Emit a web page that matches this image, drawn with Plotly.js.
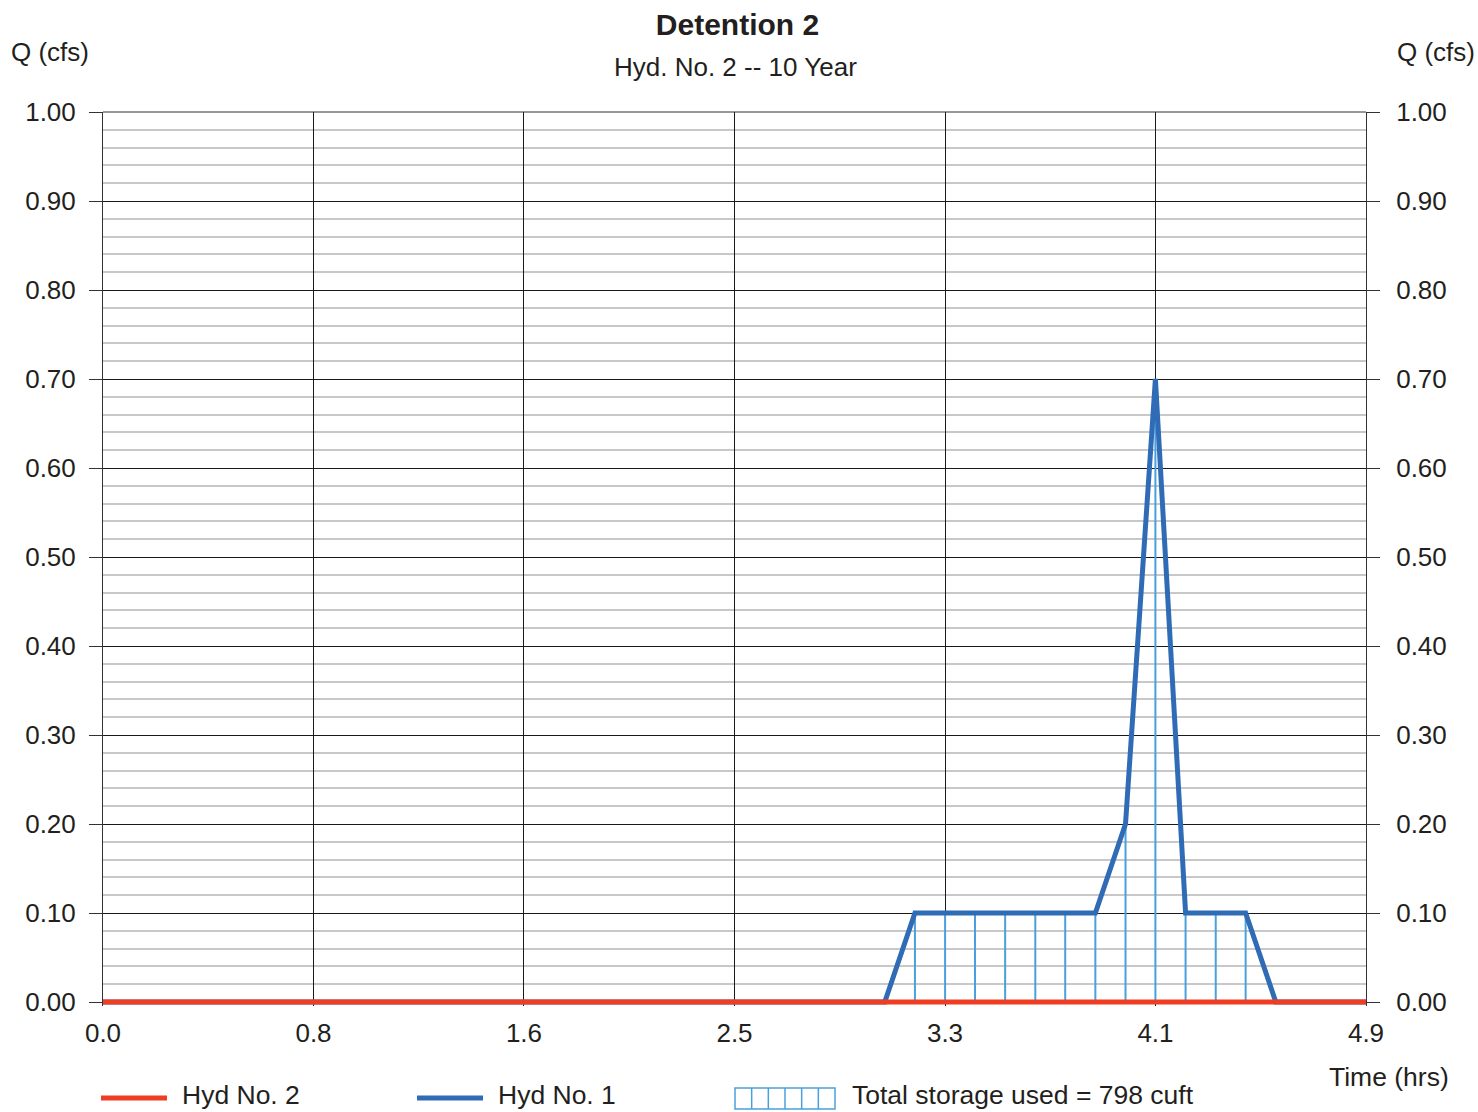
<!DOCTYPE html>
<html>
<head>
<meta charset="utf-8">
<script src="https://cdn.plot.ly/plotly-3.0.1.min.js"></script>
<style>html,body{margin:0;padding:0;background:#fff;}#chart{width:1478px;height:1112px;}</style>
</head>
<body>
<div id="chart"></div>
<script>
// ---- data ----
var timeHrs = [0.000, 3.033, 3.150, 3.267, 3.383, 3.500, 3.617, 3.733, 3.850, 3.967, 4.083, 4.200, 4.317, 4.433, 4.550, 4.900];
var hyd1Q   = [0,     0,     0.10,  0.10,  0.10,  0.10,  0.10,  0.10,  0.10,  0.20,  0.70,  0.10,  0.10,  0.10,  0,     0];
var hyd2Time = [0.000, 4.900];
var hyd2Q    = [0,     0];
var xTickVals = [0, 0.8167, 1.6333, 2.45, 3.2667, 4.0833, 4.9];
var xTickText = ['0.0', '0.8', '1.6', '2.5', '3.3', '4.1', '4.9'];
var storageText = 'Total storage used = 798 cuft';

// ---- geometry helpers ----
var W = 1478, H = 1112, L = 103, R = 1366, T = 112, B0 = 1002;   // B0 = pixel of Q = 0
var YMIN = -0.0045;                                             // small pad so the zero line is not clipped
var PPU = B0 - T;                                               // pixels per cfs
var B = B0 - YMIN * PPU;                                        // plot-area bottom
function px(x) { return (x - L) / (R - L); }
function py(y) { return (B - y) / (B - T); }

var FONT = '"Liberation Sans", Arial, Helvetica, sans-serif';
var TXT = '#231f20';
var RED = '#ee3d23', BLUE = '#2f6cb5', HATCH = '#4aa0dc';

// storage hatch segments built from the inflow data
var hx = [], hy = [];
for (var i = 0; i < timeHrs.length; i++) {
  if (hyd1Q[i] > 0) { hx.push(timeHrs[i], timeHrs[i], null); hy.push(0, hyd1Q[i], null); }
}

var traces = [
  {x: hx, y: hy, mode: 'lines', line: {color: HATCH, width: 2}, hoverinfo: 'skip', showlegend: false},
  {x: timeHrs, y: hyd1Q, mode: 'lines', name: 'Hyd No. 1', line: {color: BLUE, width: 5}, showlegend: false},
  {x: hyd2Time, y: hyd2Q, mode: 'lines', name: 'Hyd No. 2', line: {color: RED, width: 5}, showlegend: false},
  {x: [0, 4.9], y: [0, 1], yaxis: 'y2', mode: 'markers', marker: {opacity: 0}, hoverinfo: 'skip', showlegend: false}
];

var shapes = [
  // top frame line
  {type: 'line', xref: 'paper', yref: 'paper', x0: 0, x1: 1, y0: 1, y1: 1, line: {color: '#333', width: 1}},
  // legend swatches
  {type: 'line', xref: 'paper', yref: 'paper', x0: px(101), x1: px(167), y0: py(1098), y1: py(1098), line: {color: RED, width: 5}},
  {type: 'line', xref: 'paper', yref: 'paper', x0: px(417), x1: px(483), y0: py(1098), y1: py(1098), line: {color: BLUE, width: 5}},
  {type: 'rect', xref: 'paper', yref: 'paper', x0: px(735), x1: px(835), y0: py(1109), y1: py(1088), line: {color: HATCH, width: 1.5}, fillcolor: 'rgba(0,0,0,0)'}
];
for (var k = 1; k < 6; k++) {
  var xx = 735 + k * 100 / 6;
  shapes.push({type: 'line', xref: 'paper', yref: 'paper', x0: px(xx), x1: px(xx), y0: py(1109), y1: py(1088), line: {color: HATCH, width: 1.5}});
}

function ann(text, x, y, xanchor, size, yanchor) {
  return {text: text, xref: 'paper', yref: 'paper', x: px(x), y: py(y), xanchor: xanchor, yanchor: yanchor || 'middle',
          showarrow: false, font: {size: size, color: TXT, family: FONT}};
}
var annotations = [
  ann('Hyd. No. 2 -- 10 Year', 735, 67, 'center', 26),
  ann('Q (cfs)', 9, 52, 'left', 26),
  ann('Q (cfs)', 1477, 52, 'right', 26),
  ann('Time (hrs)', 1451, 1077, 'right', 26.5),
  ann('Hyd No. 2', 180, 1112, 'left', 26.5, 'bottom'),
  ann('Hyd No. 1', 496, 1112, 'left', 26.5, 'bottom'),
  ann(storageText, 850, 1112, 'left', 26.5, 'bottom')
];

var yCommon = {
  range: [YMIN, 1], dtick: 0.1, tick0: 0, tickformat: '.2f',
  ticks: 'outside', ticklen: 13, tickwidth: 1, tickcolor: '#333',
  tickfont: {size: 26, color: TXT, family: FONT},
  zeroline: false, fixedrange: true,
  showline: true, linecolor: '#333', linewidth: 1
};

var layout = {
  width: W, height: H,
  margin: {l: L, r: W - R, t: T, b: H - B, pad: 0},
  paper_bgcolor: '#fff', plot_bgcolor: '#fff',
  font: {family: FONT, color: TXT},
  title: {text: '<b>Detention 2</b>', x: 737.5 / W, xref: 'container', xanchor: 'center', y: 1 - 24 / H, yref: 'container', yanchor: 'middle', font: {size: 30, color: TXT, family: FONT}},
  showlegend: false,
  xaxis: {
    range: [0, 4.9], tickvals: xTickVals, ticktext: xTickText,
    showgrid: true, gridcolor: '#1a1a1a', gridwidth: 1,
    ticks: '', ticklabelstandoff: 9, tickfont: {size: 26, color: TXT, family: FONT},
    showline: false, zeroline: false, fixedrange: true
  },
  yaxis: Object.assign({}, yCommon, {
    side: 'left', showgrid: true, gridcolor: '#1a1a1a', gridwidth: 1, ticklabelstandoff: 8,
    minor: {dtick: 0.02, tick0: 0, showgrid: true, gridcolor: '#c8c8c8', gridwidth: 2, ticks: ''}
  }),
  yaxis2: Object.assign({}, yCommon, {
    overlaying: 'y', side: 'right', showgrid: false, ticklabelstandoff: 11
  }),
  shapes: shapes,
  annotations: annotations
};

Plotly.newPlot('chart', traces, layout, {staticPlot: true, displayModeBar: false});
</script>
</body>
</html>
